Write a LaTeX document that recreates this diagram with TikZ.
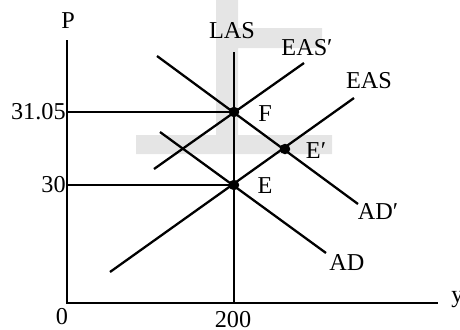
\documentclass[tikz,border=0pt]{standalone}
\usepackage{fontspec}
\setmainfont{Liberation Serif}
\usetikzlibrary{positioning}
\tikzset{
	curve/.style={line width=1.3pt},
	axisline/.style={line width=0.75pt},
	lbl/.style={font=\fontsize{13.8}{16}\selectfont, inner sep=0pt}
}
\tikzset{
	eqpt/.style={circle, fill=black, inner sep=0pt, minimum size=0.21cm}
}

\begin{document}
\begin{tikzpicture}[x=0.02cm, y=-0.02cm]
      \useasboundingbox (0,0) rectangle (460,329);
      \fill[black!10] (216,0) -- (238,0) -- (238,28) -- (322,28) -- (322,48) -- (238,48)
        -- (238,135) -- (332,135) -- (332,154) -- (136,154) -- (136,135) -- (216,135) -- cycle;
      % axes
      \coordinate (O) at (67,303);
      \coordinate (ytop) at (67,40);
      \coordinate (xend) at (438,303);
      \draw[axisline] (ytop) -- (O) -- (xend);
      \node[lbl] (P) at (68,21) {P};
      \node[lbl, anchor=west] (ylab) at (451,300) {y};
      \node[lbl] (zero) at (62,317) {0};
      \node[lbl] (yfull) at (233,320) {200};
      % equilibria
      \coordinate (E) at (234,185);
      \coordinate (F) at (234,112);
      \coordinate (Ep) at (285,149);
      \node[lbl, anchor=east] (pF) at (66,112) {31.05};
      \node[lbl, anchor=east] (pE) at (66,185) {30};
      \draw[curve] (pF.east) -- (F);
      \draw[curve] (pE.east) -- (E);
      % curves
      \coordinate (las1) at (234,52);
      \coordinate (las2) at (234,303);
      \draw[curve] (las1) -- (las2);
      \foreach \a/\b/\c/\d/\n in {160/132/326/253/ad, 157/56/358/204/adp,
                                  110/272/354/98/eas, 154/169/304/63/easp}
        \draw[curve] (\a,\b) coordinate (\n1) -- (\c,\d) coordinate (\n2);
      \foreach \p in {E,F,Ep}
        \node[eqpt] (dot\p) at (\p) {};
      % labels
      \node[lbl] (LAS) at (232,31) {LAS};
      \node[lbl] (EASp) at (307,48) {EAS′};
      \node[lbl] (EAS) at (369,81) {EAS};
      \node[lbl] (ADp) at (378,212) {AD′};
      \node[lbl] (AD) at (347,263) {AD};
      \node[lbl] (Flab) at (265,114) {F};
      \node[lbl] (Eplab) at (316,151) {E′};
      \node[lbl] (Elab) at (265,186) {E};
    \end{tikzpicture}
\end{document}
